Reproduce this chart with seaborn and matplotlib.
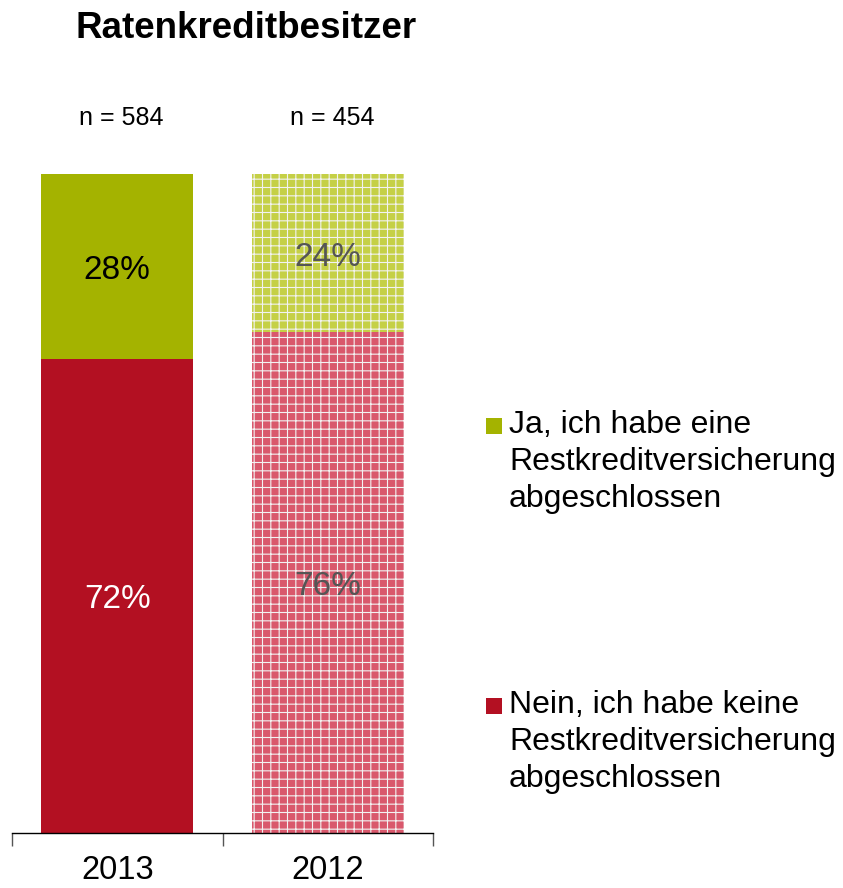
import numpy as np
import pandas as pd
import seaborn as sns
import matplotlib.pyplot as plt
from matplotlib.patches import Rectangle

sns.set_style("white")
plt.rcParams["font.family"] = ["Liberation Sans", "DejaVu Sans"]
plt.rcParams["hatch.linewidth"] = 0.8
plt.rcParams["text.color"] = "black"
plt.rcParams["xtick.color"] = "black"

years = ["2013", "2012"]
sample_sizes = [584, 454]
ja_share = [28, 24]
nein_share = [72, 76]
legend_labels = [
    "Ja, ich habe eine\nRestkreditversicherung\nabgeschlossen",
    "Nein, ich habe keine\nRestkreditversicherung\nabgeschlossen",
]

green = "#a4b300"
red = "#b31022"
light_green = "#c5d046"
light_red = "#d9586c"

df = pd.DataFrame({"Jahr": years, "Ja": ja_share, "Nein": nein_share})
df["Gesamt"] = df["Ja"] + df["Nein"]

W, H = 843, 888
fig = plt.figure(figsize=(W / 100, H / 100), dpi=100)
ax = fig.add_axes([12 / W, 1 - 833 / H, (433 - 12) / W, (833 - 174) / H])

# total first (green top part), then red part over it
sns.barplot(data=df, x="Jahr", y="Gesamt", color=green, width=0.72,
            saturation=1, ax=ax, linewidth=0)
sns.barplot(data=df, x="Jahr", y="Nein", color=red, width=0.72,
            saturation=1, ax=ax, linewidth=0)

# 2012 bars drawn lighter with a white grid pattern
for p, face in zip([ax.patches[1], ax.patches[3]], [light_green, light_red]):
    p.set_facecolor(face)
    p.set_hatch("++")
    p.set_edgecolor("#f2f2f2")
    p.set_linewidth(0)

ax.set_ylim(0, 100)
ax.set_xlim(-0.5, 1.5)
ax.set_yticks([])
ax.set_xlabel("")
ax.set_ylabel("")
for s in ["top", "right", "left"]:
    ax.spines[s].set_visible(False)
ax.spines["bottom"].set_color("black")
ax.spines["bottom"].set_linewidth(1)
ax.set_xticks([0, 1])
ax.set_xticklabels(years, fontsize=23.5)
ax.tick_params(axis="x", which="major", length=0, pad=16, bottom=True)
# category boundary ticks
ax.set_xticks([-0.5, 0.5, 1.5], minor=True)
ax.tick_params(axis="x", which="minor", length=9, width=1, color="#555555",
               direction="out", bottom=True)

for i, (ja, nein, n) in enumerate(zip(ja_share, nein_share, sample_sizes)):
    lbl_col_top = "black" if i == 0 else "#555555"
    lbl_col_bot = "white" if i == 0 else "#555555"
    ax.text(i, nein + ja / 2 - 0.6, f"{ja}%", ha="center", va="center", fontsize=24, color=lbl_col_top)
    ax.text(i, nein / 2 - 0.6, f"{nein}%", ha="center", va="center", fontsize=24, color=lbl_col_bot)
    ax.text(i + 0.02, 108.5, f"n = {n}", ha="center", va="center", fontsize=18, clip_on=False)

fig.text(75 / W, 1 - 29 / H, "Ratenkreditbesitzer", fontsize=26.5, fontweight="bold",
         ha="left", va="center")

# legend squares with text aligned to first line
for label, col, ytop in zip(legend_labels, [green, red], [410, 690]):
    fig.patches.append(Rectangle((486 / W, 1 - (ytop + 24) / H), 16 / W, 16 / H,
                                 facecolor=col, edgecolor="none", transform=fig.transFigure))
    fig.text(509 / W, 1 - ytop / H, label, fontsize=23, ha="left", va="top", linespacing=1.3)

fig.savefig("out.png", dpi=100)
